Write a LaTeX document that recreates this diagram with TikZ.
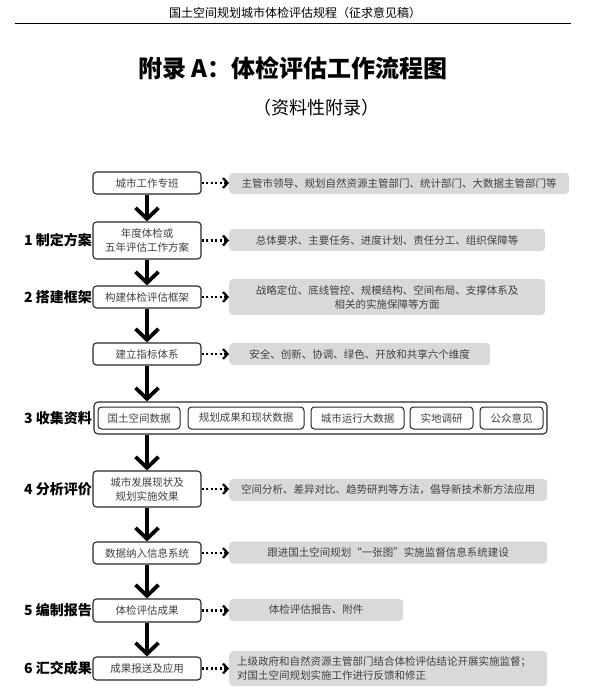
\documentclass[tikz,border=0pt]{standalone}
\usepackage{fontspec}
\setmainfont{Noto Sans CJK SC}
\usetikzlibrary{arrows.meta}
\tikzset{
  kasten/.style={draw=black!85, line width=1.1bp, rounded corners=3.5bp,
    minimum width=108bp, align=center, text=black!75, inner sep=1bp,
    font=\fontsize{10.5bp}{14bp}\selectfont},
  quelle/.style={draw=black!85, line width=1bp, rounded corners=3.5bp,
    minimum height=22bp, text=black!75, inner sep=1bp,
    font=\fontsize{10.5bp}{14bp}\selectfont},
  grau/.style={fill=black!15, rounded corners=4bp, anchor=west, align=center,
    text=black!75, inner sep=1bp, font=\fontsize{10.5bp}{14bp}\selectfont},
  schritt/.style={anchor=east, inner sep=0pt,
    font=\bfseries\fontsize{14bp}{16bp}\selectfont},
  pfeil/.style={line width=3.5bp,
    -{Straight Barb[length=11bp,width=23bp,line width=3.8bp]}},
  punkte/.style={line width=2.3bp, dash pattern=on 2.3bp off 2.2bp,
    -{Straight Barb[length=4.5bp,width=10bp,line width=2.2bp]}},
}
\begin{document}
\begin{tikzpicture}[x=1bp,y=-1bp]
        \useasboundingbox (0,0) rectangle (590,700);
        % Kopfzeile und Titel
        \node (kopf) at (295,13) {\fontsize{12bp}{14bp}\selectfont 国土空间规划城市体检评估规程（征求意见稿）};
        \draw [line width=0.8bp] (15,23) -- (571,23);
        \node (titel) at (293,68) {\bfseries\fontsize{24bp}{28bp}\selectfont 附录 A：体检评估工作流程图};
        \node (untertitel) at (316,108) {\fontsize{18bp}{20bp}\selectfont （资料性附录）};
        % Hauptkette
        \node [kasten, minimum height=22bp] (b1) at (147,183) {城市工作专班};
        \node [kasten, minimum height=37bp] (b2) at (147,240.5) {年度体检或\\五年评估工作方案};
        \node [kasten, minimum height=22bp] (b3) at (147,297) {构建体检评估框架};
        \node [kasten, minimum height=22bp] (b4) at (147,354) {建立指标体系};
        \node [draw=black!85, line width=1.1bp, rounded corners=4bp,
               minimum width=453bp, minimum height=32bp] (sammeln) at (320.5,418) {};
        \node [kasten, minimum height=36bp] (b5) at (147,489) {城市发展现状及\\规划实施效果};
        \node [kasten, minimum height=22bp] (b6) at (147,553) {数据纳入信息系统};
        \node [kasten, minimum height=23bp] (b7) at (147,610.5) {体检评估成果};
        \node [kasten, minimum height=23bp] (b8) at (147,668.5) {成果报送及应用};
        % Datenquellen
        \foreach \n/\x/\w/\t in {1/139/82/国土空间数据, 2/246/116/规划成果和现状数据,
                                 3/357.5/93/城市运行大数据, 4/441.5/63/实地调研,
                                 5/511.5/63/公众意见}{
            \node [quelle, minimum width=\w bp] (q\n) at (\x,418) {\t};
        }
        % Erläuterungen
        \node [grau, minimum width=340bp, minimum height=21bp] (g1) at (229,183.5) {主管市领导、规划自然资源主管部门、统计部门、大数据主管部门等};
        \node [grau, minimum width=316bp, minimum height=22bp] (g2) at (229,240) {总体要求、主要任务、进度计划、责任分工、组织保障等};
        \node [grau, minimum width=316bp, minimum height=36bp] (g3) at (229,297) {战略定位、底线管控、规模结构、空间布局、支撑体系及\\相关的实施保障等方面};
        \node [grau, minimum width=261bp, minimum height=22bp] (g4) at (229,354) {安全、创新、协调、绿色、开放和共享六个维度};
        \node [grau, minimum width=318bp, minimum height=22bp] (g5) at (229,490) {空间分析、差异对比、趋势研判等方法，倡导新技术新方法应用};
        \node [grau, minimum width=318bp, minimum height=22bp] (g6) at (229,552.5) {跟进国土空间规划“一张图”实施监督信息系统建设};
        \node [grau, minimum width=174bp, minimum height=22bp] (g7) at (229,610) {体检评估报告、附件};
        \node [grau, align=left, text width=302bp, inner xsep=8bp,
               minimum height=35bp] (g8) at (229,668.5) {上级政府和自然资源主管部门结合体检评估结论开展实施监督；\\对国土空间规划实施工作进行反馈和修正};
        % Schritte
        \node [schritt] (s1) at (92,240.5) {1 制定方案};
        \node [schritt] (s2) at (92,297) {2 搭建框架};
        \node [schritt] (s3) at (92,418) {3 收集资料};
        \node [schritt] (s4) at (92,489) {4 分析评价};
        \node [schritt] (s5) at (92,610.5) {5 编制报告};
        \node [schritt] (s6) at (92,668.5) {6 汇交成果};
        % Pfeile
        \foreach \a/\b in {b1/b2,b2/b3,b3/b4,b5/b6,b6/b7,b7/b8}{
            \draw [pfeil] (\a) -- (\b);
        }
        \draw [pfeil] (b4) -- (b4 |- sammeln.north);
        \draw [pfeil] (b5 |- sammeln.south) -- (b5);
        \foreach \n in {1,...,8}{
            \draw [punkte] (b\n.east) -- (b\n.east -| g\n.west);
        }
    \end{tikzpicture}
\end{document}
